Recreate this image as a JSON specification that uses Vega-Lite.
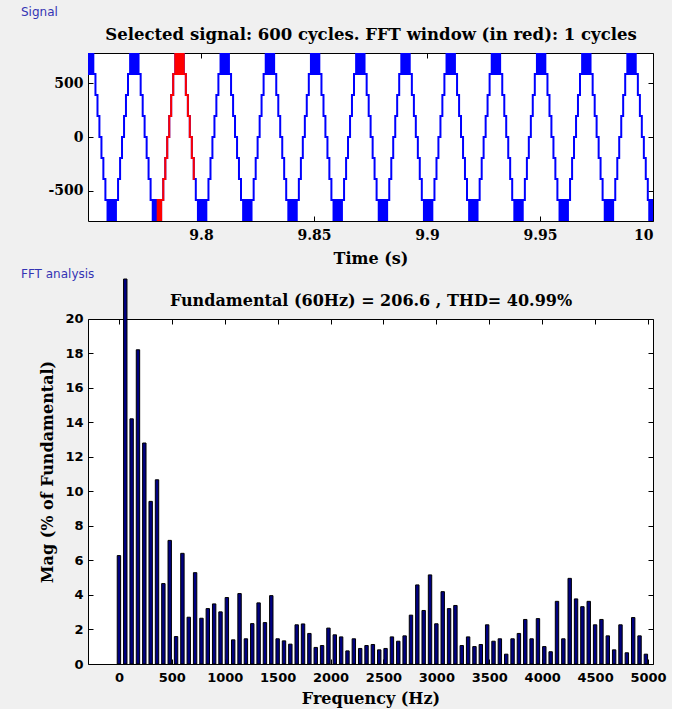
{
  "$schema": "https://vega.github.io/schema/vega-lite/v6.json",
  "background": "#f0f0f0",
  "padding": {"left": 20, "top": 5, "right": 5, "bottom": 2},
  "spacing": 0,
  "config": {
    "font": "DejaVu Serif",
    "view": {"stroke": "black", "strokeWidth": 1, "fill": "white"},
    "axis": {"domain": false, "grid": false, "tickColor": "black", "tickSize": -5, "labelColor": "black", "labelFontWeight": "bold", "titleFont": "DejaVu Serif", "titleFontWeight": "bold", "titleFontSize": 16, "titleColor": "black"},
    "title": {"font": "DejaVu Sans", "fontWeight": "normal", "fontSize": 12, "color": "#3434b4", "anchor": "start", "frame": "group", "dx": -67}
  },
  "datasets": {
    "sig": [
      {"t":9.75,"v":585},
      {"t":9.7533,"v":390},{"t":9.7542,"v":195},{"t":9.75505,"v":0},{"t":9.75595,"v":-195},{"t":9.7568,"v":-390},{"t":9.7577,"v":-585},{"t":9.7633,"v":-390},{"t":9.7642,"v":-195},{"t":9.76505,"v":0},{"t":9.76595,"v":195},{"t":9.7668,"v":390},{"t":9.7677,"v":585},
      {"t":9.7733,"v":390},{"t":9.7742,"v":195},{"t":9.77505,"v":0},{"t":9.77595,"v":-195},{"t":9.7768,"v":-390},{"t":9.7777,"v":-585},{"t":9.7833,"v":-390},{"t":9.7842,"v":-195},{"t":9.78505,"v":0},{"t":9.78595,"v":195},{"t":9.7868,"v":390},{"t":9.7877,"v":585},
      {"t":9.7933,"v":390},{"t":9.7942,"v":195},{"t":9.79505,"v":0},{"t":9.79595,"v":-195},{"t":9.7968,"v":-390},{"t":9.7977,"v":-585},{"t":9.8033,"v":-390},{"t":9.8042,"v":-195},{"t":9.80505,"v":0},{"t":9.80595,"v":195},{"t":9.8068,"v":390},{"t":9.8077,"v":585},
      {"t":9.8133,"v":390},{"t":9.8142,"v":195},{"t":9.81505,"v":0},{"t":9.81595,"v":-195},{"t":9.8168,"v":-390},{"t":9.8177,"v":-585},{"t":9.8233,"v":-390},{"t":9.8242,"v":-195},{"t":9.82505,"v":0},{"t":9.82595,"v":195},{"t":9.8268,"v":390},{"t":9.8277,"v":585},
      {"t":9.8333,"v":390},{"t":9.8342,"v":195},{"t":9.83505,"v":0},{"t":9.83595,"v":-195},{"t":9.8368,"v":-390},{"t":9.8377,"v":-585},{"t":9.8433,"v":-390},{"t":9.8442,"v":-195},{"t":9.84505,"v":0},{"t":9.84595,"v":195},{"t":9.8468,"v":390},{"t":9.8477,"v":585},
      {"t":9.8533,"v":390},{"t":9.8542,"v":195},{"t":9.85505,"v":0},{"t":9.85595,"v":-195},{"t":9.8568,"v":-390},{"t":9.8577,"v":-585},{"t":9.8633,"v":-390},{"t":9.8642,"v":-195},{"t":9.86505,"v":0},{"t":9.86595,"v":195},{"t":9.8668,"v":390},{"t":9.8677,"v":585},
      {"t":9.8733,"v":390},{"t":9.8742,"v":195},{"t":9.87505,"v":0},{"t":9.87595,"v":-195},{"t":9.8768,"v":-390},{"t":9.8777,"v":-585},{"t":9.8833,"v":-390},{"t":9.8842,"v":-195},{"t":9.88505,"v":0},{"t":9.88595,"v":195},{"t":9.8868,"v":390},{"t":9.8877,"v":585},
      {"t":9.8933,"v":390},{"t":9.8942,"v":195},{"t":9.89505,"v":0},{"t":9.89595,"v":-195},{"t":9.8968,"v":-390},{"t":9.8977,"v":-585},{"t":9.9033,"v":-390},{"t":9.9042,"v":-195},{"t":9.90505,"v":0},{"t":9.90595,"v":195},{"t":9.9068,"v":390},{"t":9.9077,"v":585},
      {"t":9.9133,"v":390},{"t":9.9142,"v":195},{"t":9.91505,"v":0},{"t":9.91595,"v":-195},{"t":9.9168,"v":-390},{"t":9.9177,"v":-585},{"t":9.9233,"v":-390},{"t":9.9242,"v":-195},{"t":9.92505,"v":0},{"t":9.92595,"v":195},{"t":9.9268,"v":390},{"t":9.9277,"v":585},
      {"t":9.9333,"v":390},{"t":9.9342,"v":195},{"t":9.93505,"v":0},{"t":9.93595,"v":-195},{"t":9.9368,"v":-390},{"t":9.9377,"v":-585},{"t":9.9433,"v":-390},{"t":9.9442,"v":-195},{"t":9.94505,"v":0},{"t":9.94595,"v":195},{"t":9.9468,"v":390},{"t":9.9477,"v":585},
      {"t":9.9533,"v":390},{"t":9.9542,"v":195},{"t":9.95505,"v":0},{"t":9.95595,"v":-195},{"t":9.9568,"v":-390},{"t":9.9577,"v":-585},{"t":9.9633,"v":-390},{"t":9.9642,"v":-195},{"t":9.96505,"v":0},{"t":9.96595,"v":195},{"t":9.9668,"v":390},{"t":9.9677,"v":585},
      {"t":9.9733,"v":390},{"t":9.9742,"v":195},{"t":9.97505,"v":0},{"t":9.97595,"v":-195},{"t":9.9768,"v":-390},{"t":9.9777,"v":-585},{"t":9.9833,"v":-390},{"t":9.9842,"v":-195},{"t":9.98505,"v":0},{"t":9.98595,"v":195},{"t":9.9868,"v":390},{"t":9.9877,"v":585},
      {"t":9.9933,"v":390},{"t":9.9942,"v":195},{"t":9.99505,"v":0},{"t":9.99595,"v":-195},{"t":9.9968,"v":-390},{"t":9.9977,"v":-585},{"t":10.0,"v":-585}
    ],
    "win": [
      {"t":9.7804,"v":-585},{"t":9.7833,"v":-390},{"t":9.7842,"v":-195},{"t":9.78505,"v":0},{"t":9.78595,"v":195},{"t":9.7868,"v":390},{"t":9.7877,"v":585},
      {"t":9.7933,"v":390},{"t":9.7942,"v":195},{"t":9.79505,"v":0},{"t":9.79595,"v":-195},{"t":9.7968,"v":-390},{"t":9.7971,"v":-390}
    ],
    "blocks": [
      {"a":9.75,"b":9.7528,"lo":585,"hi":780,"s":"signal"},
      {"a":9.7682,"b":9.7728,"lo":585,"hi":780,"s":"signal"},
      {"a":9.7882,"b":9.7928,"lo":585,"hi":780,"s":"signal"},
      {"a":9.8082,"b":9.8128,"lo":585,"hi":780,"s":"signal"},
      {"a":9.8282,"b":9.8328,"lo":585,"hi":780,"s":"signal"},
      {"a":9.8482,"b":9.8528,"lo":585,"hi":780,"s":"signal"},
      {"a":9.8682,"b":9.8728,"lo":585,"hi":780,"s":"signal"},
      {"a":9.8882,"b":9.8928,"lo":585,"hi":780,"s":"signal"},
      {"a":9.9082,"b":9.9128,"lo":585,"hi":780,"s":"signal"},
      {"a":9.9282,"b":9.9328,"lo":585,"hi":780,"s":"signal"},
      {"a":9.9482,"b":9.9528,"lo":585,"hi":780,"s":"signal"},
      {"a":9.9682,"b":9.9728,"lo":585,"hi":780,"s":"signal"},
      {"a":9.9882,"b":9.9928,"lo":585,"hi":780,"s":"signal"},
      {"a":9.7582,"b":9.7628,"lo":-780,"hi":-585,"s":"signal"},
      {"a":9.7782,"b":9.7828,"lo":-780,"hi":-585,"s":"signal"},
      {"a":9.7982,"b":9.8028,"lo":-780,"hi":-585,"s":"signal"},
      {"a":9.8182,"b":9.8228,"lo":-780,"hi":-585,"s":"signal"},
      {"a":9.8382,"b":9.8428,"lo":-780,"hi":-585,"s":"signal"},
      {"a":9.8582,"b":9.8628,"lo":-780,"hi":-585,"s":"signal"},
      {"a":9.8782,"b":9.8828,"lo":-780,"hi":-585,"s":"signal"},
      {"a":9.8982,"b":9.9028,"lo":-780,"hi":-585,"s":"signal"},
      {"a":9.9182,"b":9.9228,"lo":-780,"hi":-585,"s":"signal"},
      {"a":9.9382,"b":9.9428,"lo":-780,"hi":-585,"s":"signal"},
      {"a":9.9582,"b":9.9628,"lo":-780,"hi":-585,"s":"signal"},
      {"a":9.9782,"b":9.9828,"lo":-780,"hi":-585,"s":"signal"},
      {"a":9.9979,"b":10.0,"lo":-780,"hi":-585,"s":"signal"},
      {"a":9.7804,"b":9.7828,"lo":-780,"hi":-585,"s":"window"},
      {"a":9.7882,"b":9.7928,"lo":585,"hi":780,"s":"window"}
    ],
    "fft": [
      {"f":0,"m":6.28},{"f":60,"m":100},{"f":120,"m":14.2},{"f":180,"m":18.2},{"f":240,"m":12.8},{"f":300,"m":9.42},{"f":360,"m":10.67},{"f":420,"m":4.66},{"f":480,"m":7.16},{"f":540,"m":1.59},
      {"f":600,"m":6.41},{"f":660,"m":2.71},{"f":720,"m":5.29},{"f":780,"m":2.65},{"f":840,"m":3.21},{"f":900,"m":3.48},{"f":960,"m":3.02},{"f":1020,"m":3.85},{"f":1080,"m":1.4},{"f":1140,"m":4.08},
      {"f":1200,"m":1.46},{"f":1260,"m":2.34},{"f":1320,"m":3.54},{"f":1380,"m":2.4},{"f":1440,"m":3.96},{"f":1500,"m":1.46},{"f":1560,"m":1.34},{"f":1620,"m":1.15},{"f":1680,"m":2.27},{"f":1740,"m":2.32},
      {"f":1800,"m":1.77},{"f":1860,"m":0.96},{"f":1920,"m":1.07},{"f":1980,"m":2.08},{"f":2040,"m":1.69},{"f":2100,"m":1.57},{"f":2160,"m":0.76},{"f":2220,"m":1.46},{"f":2280,"m":0.9},{"f":2340,"m":1.07},
      {"f":2400,"m":1.13},{"f":2460,"m":0.82},{"f":2520,"m":0.9},{"f":2580,"m":1.57},{"f":2640,"m":1.32},{"f":2700,"m":1.63},{"f":2760,"m":2.83},{"f":2820,"m":4.58},{"f":2880,"m":3.1},{"f":2940,"m":5.16},
      {"f":3000,"m":2.33},{"f":3060,"m":4.19},{"f":3120,"m":3.21},{"f":3180,"m":3.39},{"f":3240,"m":1.07},{"f":3300,"m":1.57},{"f":3360,"m":1.01},{"f":3420,"m":1.13},{"f":3480,"m":2.27},{"f":3540,"m":1.32},
      {"f":3600,"m":1.46},{"f":3660,"m":0.57},{"f":3720,"m":1.46},{"f":3780,"m":1.77},{"f":3840,"m":2.58},{"f":3900,"m":1.46},{"f":3960,"m":2.63},{"f":4020,"m":1.01},{"f":4080,"m":0.71},{"f":4140,"m":3.63},
      {"f":4200,"m":1.46},{"f":4260,"m":4.96},{"f":4320,"m":3.77},{"f":4380,"m":3.32},{"f":4440,"m":3.63},{"f":4500,"m":2.27},{"f":4560,"m":2.58},{"f":4620,"m":1.63},{"f":4680,"m":0.82},{"f":4740,"m":2.27},
      {"f":4800,"m":0.65},{"f":4860,"m":2.69},{"f":4920,"m":1.63},{"f":4980,"m":0.57}
    ]
  },
  "vconcat": [
    {
      "width": 565,
      "height": 168,
      "title": {"text": "Signal", "offset": 8},
      "resolve": {"axis": {"x": "independent", "y": "independent"}},
      "layer": [
        {
          "data": {"name": "sig"},
          "mark": {"type": "line", "interpolate": "step-after", "color": "#0000ff", "strokeWidth": 2, "clip": true},
          "encoding": {
            "x": {"field": "t", "type": "quantitative", "scale": {"domain": [9.75, 10], "nice": false, "zero": false},
                  "axis": {"values": [9.8, 9.85, 9.9, 9.95, 10], "format": "~g", "title": "Time (s)", "labelFont": "DejaVu Serif", "labelFontSize": 14, "labelPadding": 12, "titlePadding": 8}},
            "y": {"field": "v", "type": "quantitative", "scale": {"domain": [-780, 780], "nice": false, "zero": false},
                  "axis": {"values": [-500, 0, 500], "labelExpr": "'' + datum.value", "title": null, "labelFont": "DejaVu Serif", "labelFontSize": 14, "labelPadding": 10}}
          }
        },
        {
          "data": {"name": "win"},
          "mark": {"type": "line", "interpolate": "step-after", "color": "#ff0000", "strokeWidth": 2, "clip": true},
          "encoding": {
            "x": {"field": "t", "type": "quantitative", "axis": {"orient": "top", "values": [9.8, 9.85, 9.9, 9.95, 10], "labels": false, "title": "Selected signal: 600 cycles. FFT window (in red): 1 cycles", "titleFontSize": 16.5, "titlePadding": 10}},
            "y": {"field": "v", "type": "quantitative", "axis": {"orient": "right", "values": [-500, 0, 500], "labels": false, "title": null}}
          }
        },
        {
          "data": {"name": "blocks"},
          "mark": {"type": "rect", "clip": true},
          "encoding": {
            "x": {"field": "a", "type": "quantitative", "axis": null},
            "x2": {"field": "b"},
            "y": {"field": "lo", "type": "quantitative", "axis": null},
            "y2": {"field": "hi"},
            "color": {"field": "s", "type": "nominal", "scale": {"domain": ["signal", "window"], "range": ["#0000ff", "#ff0000"]}, "legend": null}
          }
        }
      ]
    },
    {
      "width": 565,
      "height": 345,
      "data": {"name": "fft"},
      "title": {"text": "FFT analysis", "offset": -4},
      "resolve": {"axis": {"x": "independent", "y": "independent"}},
      "layer": [
        {
          "mark": {"type": "bar", "width": 3.4, "color": "#000080", "stroke": "black", "strokeWidth": 1, "clip": false},
          "encoding": {
            "x": {"field": "f", "type": "quantitative", "scale": {"domain": [-245, 5000], "nice": false, "zero": false},
                  "axis": {"values": [0, 500, 1000, 1500, 2000, 2500, 3000, 3500, 4000, 4500, 5000], "format": "d", "title": "Frequency (Hz)", "labelFont": "DejaVu Sans", "labelFontSize": 13, "labelPadding": 12, "titlePadding": 6}},
            "y": {"field": "m", "type": "quantitative", "scale": {"domain": [0, 22.3], "range": [345, -40], "clamp": true, "nice": false, "zero": true},
                  "axis": {"values": [0, 2, 4, 6, 8, 10, 12, 14, 16, 18, 20], "title": "Mag (% of Fundamental)", "titleFontSize": 16, "labelFont": "DejaVu Sans", "labelFontSize": 13, "labelPadding": 10, "titlePadding": 9}}
          }
        },
        {
          "mark": {"type": "tick", "opacity": 0},
          "encoding": {
            "x": {"field": "f", "type": "quantitative", "axis": {"orient": "top", "values": [0, 500, 1000, 1500, 2000, 2500, 3000, 3500, 4000, 4500, 5000], "labels": false, "title": "Fundamental (60Hz) = 206.6 , THD= 40.99%", "titleFontSize": 16, "titlePadding": 10}},
            "y": {"field": "m", "type": "quantitative", "axis": {"orient": "right", "values": [0, 2, 4, 6, 8, 10, 12, 14, 16, 18, 20], "labels": false, "title": null}}
          }
        }
      ]
    }
  ]
}
